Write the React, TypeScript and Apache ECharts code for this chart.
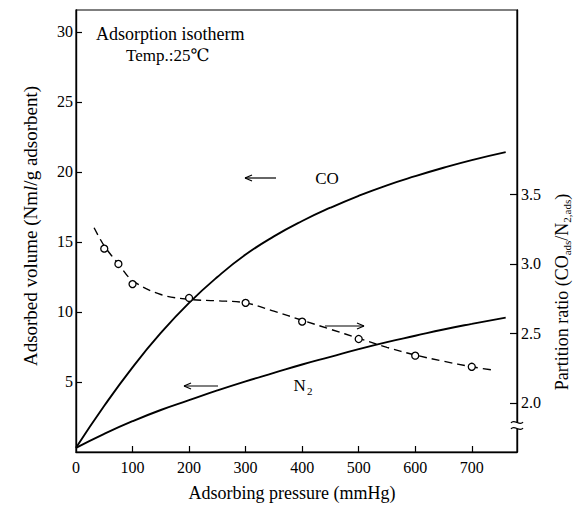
import React, { useEffect, useRef } from "react";
import * as echarts from "echarts";

// ---- data ----
const pressureCurve = [0, 50, 100, 150, 200, 250, 300, 350, 400, 450, 500, 550, 600, 650, 700, 760];
const coVolume = [0.3, 3.3, 6.05, 8.5, 10.65, 12.5, 14.1, 15.4, 16.5, 17.45, 18.3, 19.05, 19.7, 20.3, 20.85, 21.42];
const n2Volume = [0.3, 1.3, 2.2, 3.0, 3.7, 4.4, 5.05, 5.65, 6.25, 6.8, 7.35, 7.85, 8.3, 8.75, 9.15, 9.6];

const ratioCurvePressure = [32, 50, 75, 100, 150, 200, 250, 300, 350, 400, 450, 500, 550, 600, 650, 700, 740];
const ratioCurve = [3.26, 3.13, 3.0, 2.88, 2.78, 2.745, 2.735, 2.72, 2.66, 2.595, 2.53, 2.465, 2.4, 2.345, 2.3, 2.26, 2.235];

const ratioPointPressure = [50, 75, 100, 200, 300, 400, 500, 600, 700];
const ratioPoints = [3.11, 3.0, 2.855, 2.755, 2.72, 2.585, 2.46, 2.34, 2.26];

const xTickLabels = [0, 100, 200, 300, 400, 500, 600, 700];
const leftTickLabels = [5, 10, 15, 20, 25, 30];
const rightTickLabels = [2.0, 2.5, 3.0, 3.5];

const FONT = "'Liberation Serif', 'DejaVu Serif', serif";

function arrow(x1: number, x2: number, y: number) {
  const d = x2 > x1 ? -1 : 1;
  const st = { stroke: "#000", lineWidth: 1.2 };
  return [
    { type: "line", shape: { x1, y1: y, x2, y2: y }, style: st, silent: true },
    { type: "line", shape: { x1: x2, y1: y, x2: x2 + d * 7, y2: y - 3 }, style: st, silent: true },
    { type: "line", shape: { x1: x2, y1: y, x2: x2 + d * 7, y2: y + 3 }, style: st, silent: true },
  ];
}

export default function App() {
  const ref = useRef<HTMLDivElement>(null);
  useEffect(() => {
    if (!ref.current) return;
    const chart = echarts.init(ref.current, undefined, { renderer: "svg" });
    const pair = (xs: number[], ys: number[]) => xs.map((x, i) => [x, ys[i]]);
    const axisLine = { show: true, lineStyle: { color: "#000", width: 1.4 } };
    const labelStyle = { color: "#000", fontFamily: FONT, fontSize: 16 };
    chart.setOption({
      animation: false,
      backgroundColor: "#fff",
      grid: {
        left: 76,
        top: 10,
        right: 64,
        bottom: 61,
        show: true,
        borderColor: "#000",
        borderWidth: 1.2,
        containLabel: false,
      },
      xAxis: {
        type: "value",
        min: 0,
        max: 780,
        interval: 100,
        axisLine,
        splitLine: { show: false },
        axisTick: { show: true, inside: true, length: 6, lineStyle: { color: "#000", width: 1.2 }, customValues: [100, 200, 300, 400, 500, 600, 700] },
        axisLabel: { ...labelStyle, margin: 7, customValues: xTickLabels, formatter: (v: number) => String(v) },
      },
      yAxis: [
        {
          type: "value",
          min: 0,
          max: 31.57,
          interval: 5,
          axisLine,
          splitLine: { show: false },
          axisTick: { show: true, inside: true, length: 6, lineStyle: { color: "#000", width: 1.2 }, customValues: leftTickLabels },
          axisLabel: { ...labelStyle, margin: 3, customValues: leftTickLabels, formatter: (v: number) => String(v) },
        },
        {
          type: "value",
          position: "right",
          min: 1.647,
          max: 4.827,
          axisLine,
          splitLine: { show: false },
          axisTick: { show: true, inside: true, length: 7, lineStyle: { color: "#000", width: 1.2 }, customValues: rightTickLabels },
          axisLabel: { ...labelStyle, margin: 4, customValues: rightTickLabels, formatter: (v: number) => v.toFixed(1) },
        },
      ],
      series: [
        {
          type: "line",
          name: "CO",
          data: pair(pressureCurve, coVolume),
          smooth: 0.5,
          showSymbol: false,
          lineStyle: { color: "#000", width: 1.9 },
        },
        {
          type: "line",
          name: "N2",
          data: pair(pressureCurve, n2Volume),
          smooth: 0.5,
          showSymbol: false,
          lineStyle: { color: "#000", width: 1.9 },
        },
        {
          type: "line",
          name: "ratio curve",
          yAxisIndex: 1,
          data: pair(ratioCurvePressure, ratioCurve),
          smooth: 0.35,
          showSymbol: false,
          lineStyle: { color: "#000", width: 1.4, type: [8, 5] },
        },
        {
          type: "scatter",
          name: "ratio",
          yAxisIndex: 1,
          data: pair(ratioPointPressure, ratioPoints),
          symbol: "circle",
          symbolSize: 7,
          itemStyle: { color: "#fff", borderColor: "#000", borderWidth: 1.3, opacity: 1 },
          z: 5,
        },
      ],
      graphic: [
        {
          type: "text",
          x: 96,
          y: 34,
          style: { text: "Adsorption isotherm", font: `18px ${FONT}`, fill: "#000", verticalAlign: "middle" },
        },
        {
          type: "text",
          x: 126,
          y: 55,
          style: { text: "Temp.:25℃", font: `17px ${FONT}`, fill: "#000", verticalAlign: "middle" },
        },
        {
          type: "text",
          x: 327,
          y: 178,
          style: { text: "CO", font: `17px ${FONT}`, fill: "#000", align: "center", verticalAlign: "middle" },
        },
        {
          type: "text",
          x: 303,
          y: 385,
          style: {
            text: "{a|N}{s|2}",
            fill: "#000",
            align: "center",
            verticalAlign: "middle",
            rich: {
              a: { font: `17px ${FONT}`, fill: "#000", lineHeight: 18, verticalAlign: "bottom" },
              s: { font: `11px ${FONT}`, fill: "#000", lineHeight: 18, verticalAlign: "bottom", padding: [0, 0, -2, 1] },
            },
          },
        },
        ...arrow(276, 245, 178),
        ...arrow(218, 184, 386),
        ...arrow(325, 364, 326),
        {
          type: "text",
          x: 30,
          y: 226,
          rotation: Math.PI / 2,
          style: {
            text: "{a|Adsorbed volume (Nm}{i|l}{a|/g adsorbent)}",
            align: "center",
            verticalAlign: "middle",
            rich: {
              a: { font: `19px ${FONT}`, fill: "#000" },
              i: { font: `italic 19px ${FONT}`, fill: "#000" },
            },
          },
        },
        {
          type: "text",
          x: 561,
          y: 292,
          rotation: Math.PI / 2,
          style: {
            text: "{a|Partition ratio (CO}{s|ads}{a|/N}{s|2,ads}{a|)}",
            align: "center",
            verticalAlign: "middle",
            rich: {
              a: { font: `18px ${FONT}`, fill: "#000", lineHeight: 19, verticalAlign: "bottom" },
              s: { font: `11px ${FONT}`, fill: "#000", lineHeight: 19, verticalAlign: "bottom", padding: [0, 0, -2, 0] },
            },
          },
        },
        {
          type: "text",
          x: 292,
          y: 493,
          style: { text: "Adsorbing pressure (mmHg)", font: `18px ${FONT}`, fill: "#000", align: "center", verticalAlign: "middle" },
        },
        // axis break on the right axis
        { type: "rect", shape: { x: 513, y: 423, width: 9, height: 6 }, style: { fill: "#fff" }, z: 100 },
        {
          type: "bezierCurve",
          shape: { x1: 511, y1: 423, cpx1: 514, cpy1: 418, cpx2: 520, cpy2: 427, x2: 523, y2: 422 },
          style: { stroke: "#000", lineWidth: 1.2, fill: null },
          z: 101,
        },
        {
          type: "bezierCurve",
          shape: { x1: 511, y1: 429, cpx1: 514, cpy1: 424, cpx2: 520, cpy2: 433, x2: 523, y2: 428 },
          style: { stroke: "#000", lineWidth: 1.2, fill: null },
          z: 101,
        },
      ],
    });
    return () => chart.dispose();
  }, []);
  return (
    <div
      ref={ref}
      style={{ position: "absolute", left: 0, top: 0, width: 581, height: 513, background: "#fff" }}
    />
  );
}
